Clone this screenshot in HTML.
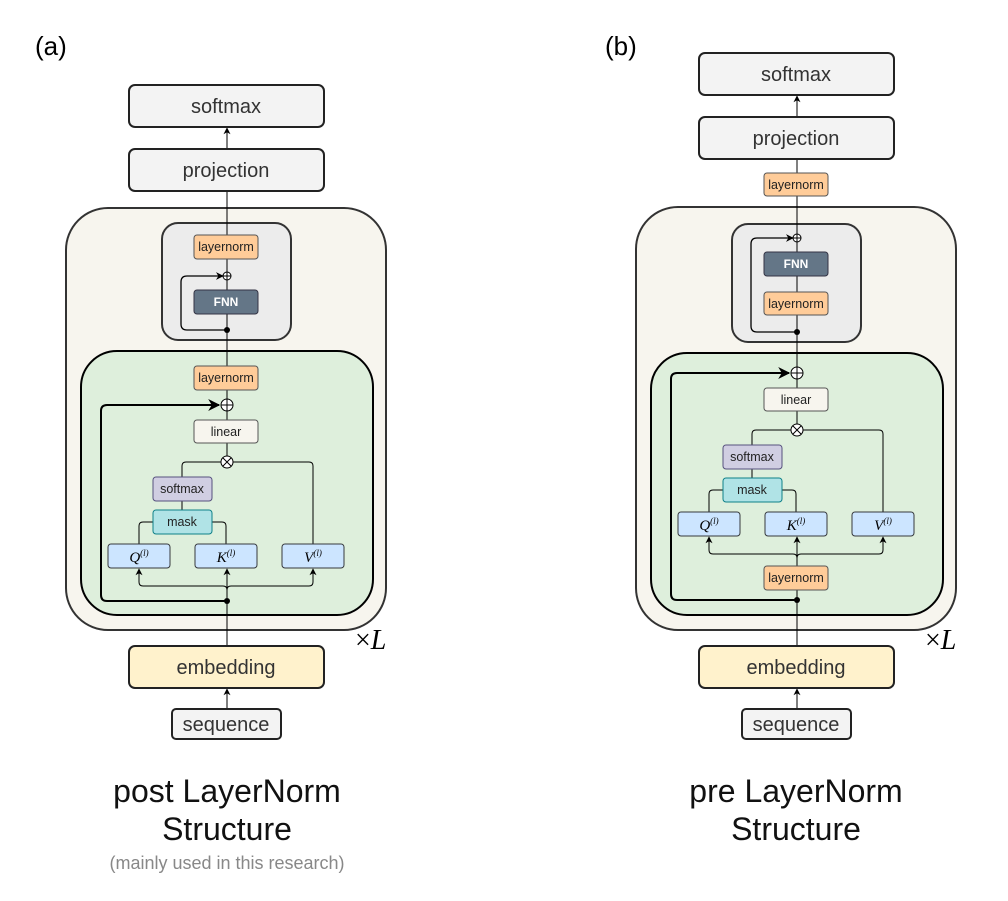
<!DOCTYPE html>
<html><head><meta charset="utf-8"><style>
html,body{margin:0;padding:0;background:#fff;}
svg{display:block;font-family:"Liberation Sans",sans-serif;}
</style></head><body>
<svg width="1008" height="901" viewBox="0 0 1008 901" xmlns="http://www.w3.org/2000/svg">
<defs>
<marker id="a" viewBox="0 0 10 10" refX="9" refY="5" markerWidth="6" markerHeight="6" orient="auto"><path d="M0,0 L10,5 L0,10 L3,5z" fill="#000"/></marker>
<marker id="s" viewBox="0 0 10 10" refX="9" refY="5" markerWidth="7" markerHeight="7" orient="auto" markerUnits="userSpaceOnUse"><path d="M0,0 L10,5 L0,10 L3,5z" fill="#000"/></marker>
</defs>

<!-- ========== LEFT (a) ========== -->
<text x="35" y="55" font-size="26" fill="#000">(a)</text>
<rect x="66" y="208" width="320" height="422" rx="42" fill="#f7f5ee" stroke="#333" stroke-width="2"/>
<rect x="162" y="223" width="129" height="117" rx="16" fill="#ececec" stroke="#333" stroke-width="2"/>
<rect x="81" y="351" width="292" height="264" rx="36" fill="#deefdc" stroke="#000" stroke-width="2"/>
<line x1="227" y1="191" x2="227" y2="462" stroke="#000" stroke-width="1"/>
<line x1="227" y1="601" x2="227" y2="646" stroke="#000" stroke-width="1"/>
<line x1="227" y1="708" x2="227" y2="689" stroke="#000" marker-end="url(#s)"/>
<line x1="227" y1="149" x2="227" y2="128" stroke="#000" marker-end="url(#s)"/>
<rect x="129" y="85" width="195" height="42" rx="6" fill="#f3f3f3" stroke="#222" stroke-width="2"/>
<text x="226" y="113" font-size="20" text-anchor="middle" fill="#333">softmax</text>
<rect x="129" y="149" width="195" height="42" rx="6" fill="#f3f3f3" stroke="#222" stroke-width="2"/>
<text x="226" y="177" font-size="20" text-anchor="middle" fill="#333">projection</text>
<rect x="129" y="646" width="195" height="42" rx="6" fill="#fff2cc" stroke="#222" stroke-width="2"/>
<text x="226" y="674" font-size="20" text-anchor="middle" fill="#333">embedding</text>
<rect x="172" y="709" width="109" height="30" rx="4" fill="#f3f3f3" stroke="#222" stroke-width="2"/>
<text x="226" y="731" font-size="20" text-anchor="middle" fill="#333">sequence</text>
<text x="355" y="649" font-size="28" font-family="Liberation Serif,serif">×<tspan font-style="italic">L</tspan></text>
<path d="M227,330 H187 q-6,0 -6,-6 V282 q0,-6 6,-6 H223" fill="none" stroke="#000" stroke-width="1.3" marker-end="url(#a)"/>
<circle cx="227" cy="330" r="3" fill="#000"/>
<circle cx="227" cy="276" r="4" fill="#fff" stroke="#000"/><path d="M223,276h8M227,272v8" stroke="#000"/>
<rect x="194" y="235" width="64" height="24" rx="3" fill="#ffcc99" stroke="#555"/>
<text x="226" y="251" font-size="12.5" text-anchor="middle" fill="#222">layernorm</text>
<rect x="194" y="290" width="64" height="24" rx="3" fill="#647687" stroke="#334"/>
<text x="226" y="306" font-size="12" font-weight="bold" text-anchor="middle" fill="#fff">FNN</text>
<path d="M227,601 H107 q-6,0 -6,-6 V411 q0,-6 6,-6 H219" fill="none" stroke="#000" stroke-width="2" marker-end="url(#a)"/>
<circle cx="227" cy="601" r="3" fill="#000"/>
<rect x="194" y="366" width="64" height="24" rx="3" fill="#ffcc99" stroke="#555"/>
<text x="226" y="382" font-size="12.5" text-anchor="middle" fill="#222">layernorm</text>
<circle cx="227" cy="405" r="6" fill="#fff" stroke="#000"/><path d="M221,405h12M227,399v12" stroke="#000"/>
<rect x="194" y="420" width="64" height="23" rx="3" fill="#f7f5ee" stroke="#555"/>
<text x="226" y="436" font-size="12.5" text-anchor="middle" fill="#222">linear</text>
<path d="M182,477 V466 q0,-4 4,-4 H309 q4,0 4,4 V544" fill="none" stroke="#000"/>
<circle cx="227" cy="462" r="6" fill="#fff" stroke="#000"/><path d="M223,458l8,8M231,458l-8,8" stroke="#000"/>
<path d="M139,544 V526 q0,-4 4,-4 H153 M212,522 H222 q4,0 4,4 V544 M182,501 V510" fill="none" stroke="#000"/>
<rect x="153" y="477" width="59" height="24" rx="3" fill="#d0cee2" stroke="#56517e"/>
<text x="182" y="493" font-size="12.5" text-anchor="middle" fill="#222">softmax</text>
<rect x="153" y="510" width="59" height="24" rx="3" fill="#b0e3e6" stroke="#0e8088"/>
<text x="182" y="526" font-size="12.5" text-anchor="middle" fill="#222">mask</text>
<rect x="108" y="544" width="62" height="24" rx="3" fill="#cce5ff" stroke="#36393d"/>
<rect x="195" y="544" width="62" height="24" rx="3" fill="#cce5ff" stroke="#36393d"/>
<rect x="282" y="544" width="62" height="24" rx="3" fill="#cce5ff" stroke="#36393d"/>
<text x="139" y="562" font-size="15" text-anchor="middle" font-family="Liberation Serif,serif" font-style="italic">Q<tspan font-size="9" dy="-6">(l)</tspan></text>
<text x="226" y="562" font-size="15" text-anchor="middle" font-family="Liberation Serif,serif" font-style="italic">K<tspan font-size="9" dy="-6">(l)</tspan></text>
<text x="313" y="562" font-size="15" text-anchor="middle" font-family="Liberation Serif,serif" font-style="italic">V<tspan font-size="9" dy="-6">(l)</tspan></text>
<path d="M227,598 V590 q0,-4 -4,-4 H143 q-4,0 -4,-4 V569" fill="none" stroke="#000" marker-end="url(#s)"/>
<path d="M227,598 V590 q0,-4 4,-4 H309 q4,0 4,-4 V569" fill="none" stroke="#000" marker-end="url(#s)"/>
<line x1="227" y1="590" x2="227" y2="569" stroke="#000" marker-end="url(#s)"/>
<text x="227" y="802" font-size="32" text-anchor="middle" fill="#111">post LayerNorm</text>
<text x="227" y="840" font-size="32" text-anchor="middle" fill="#111">Structure</text>
<text x="227" y="869" font-size="18" text-anchor="middle" fill="#888">(mainly used in this research)</text>

<!-- ========== RIGHT (b) ========== -->
<text x="605" y="55" font-size="26" fill="#000">(b)</text>
<rect x="636" y="207" width="320" height="423" rx="42" fill="#f7f5ee" stroke="#333" stroke-width="2"/>
<rect x="732" y="224" width="129" height="118" rx="16" fill="#ececec" stroke="#333" stroke-width="2"/>
<rect x="651" y="353" width="292" height="262" rx="36" fill="#deefdc" stroke="#000" stroke-width="2"/>
<line x1="797" y1="160" x2="797" y2="430" stroke="#000" stroke-width="1"/>
<line x1="797" y1="590" x2="797" y2="646" stroke="#000" stroke-width="1"/>
<line x1="797" y1="708" x2="797" y2="689" stroke="#000" marker-end="url(#s)"/>
<line x1="797" y1="117" x2="797" y2="96" stroke="#000" marker-end="url(#s)"/>
<rect x="699" y="53" width="195" height="42" rx="6" fill="#f3f3f3" stroke="#222" stroke-width="2"/>
<text x="796" y="81" font-size="20" text-anchor="middle" fill="#333">softmax</text>
<rect x="699" y="117" width="195" height="42" rx="6" fill="#f3f3f3" stroke="#222" stroke-width="2"/>
<text x="796" y="145" font-size="20" text-anchor="middle" fill="#333">projection</text>
<rect x="764" y="173" width="64" height="23" rx="3" fill="#ffcc99" stroke="#555"/>
<text x="796" y="189" font-size="12.5" text-anchor="middle" fill="#222">layernorm</text>
<rect x="699" y="646" width="195" height="42" rx="6" fill="#fff2cc" stroke="#222" stroke-width="2"/>
<text x="796" y="674" font-size="20" text-anchor="middle" fill="#333">embedding</text>
<rect x="742" y="709" width="109" height="30" rx="4" fill="#f3f3f3" stroke="#222" stroke-width="2"/>
<text x="796" y="731" font-size="20" text-anchor="middle" fill="#333">sequence</text>
<text x="925" y="649" font-size="28" font-family="Liberation Serif,serif">×<tspan font-style="italic">L</tspan></text>
<path d="M797,332 H757 q-6,0 -6,-6 V244 q0,-6 6,-6 H793" fill="none" stroke="#000" stroke-width="1.3" marker-end="url(#a)"/>
<circle cx="797" cy="332" r="3" fill="#000"/>
<circle cx="797" cy="238" r="4" fill="#fff" stroke="#000"/><path d="M793,238h8M797,234v8" stroke="#000"/>
<rect x="764" y="252" width="64" height="24" rx="3" fill="#647687" stroke="#334"/>
<text x="796" y="268" font-size="12" font-weight="bold" text-anchor="middle" fill="#fff">FNN</text>
<rect x="764" y="292" width="64" height="23" rx="3" fill="#ffcc99" stroke="#555"/>
<text x="796" y="308" font-size="12.5" text-anchor="middle" fill="#222">layernorm</text>
<path d="M797,600 H677 q-6,0 -6,-6 V379 q0,-6 6,-6 H789" fill="none" stroke="#000" stroke-width="2" marker-end="url(#a)"/>
<circle cx="797" cy="600" r="3" fill="#000"/>
<circle cx="797" cy="373" r="6" fill="#fff" stroke="#000"/><path d="M791,373h12M797,367v12" stroke="#000"/>
<rect x="764" y="388" width="64" height="23" rx="3" fill="#f7f5ee" stroke="#555"/>
<text x="796" y="404" font-size="12.5" text-anchor="middle" fill="#222">linear</text>
<path d="M752,445 V434 q0,-4 4,-4 H879 q4,0 4,4 V512" fill="none" stroke="#000"/>
<circle cx="797" cy="430" r="6" fill="#fff" stroke="#000"/><path d="M793,426l8,8M801,426l-8,8" stroke="#000"/>
<path d="M709,512 V494 q0,-4 4,-4 H723 M782,490 H792 q4,0 4,4 V512 M752,469 V478" fill="none" stroke="#000"/>
<rect x="723" y="445" width="59" height="24" rx="3" fill="#d0cee2" stroke="#56517e"/>
<text x="752" y="461" font-size="12.5" text-anchor="middle" fill="#222">softmax</text>
<rect x="723" y="478" width="59" height="24" rx="3" fill="#b0e3e6" stroke="#0e8088"/>
<text x="752" y="494" font-size="12.5" text-anchor="middle" fill="#222">mask</text>
<rect x="678" y="512" width="62" height="24" rx="3" fill="#cce5ff" stroke="#36393d"/>
<rect x="765" y="512" width="62" height="24" rx="3" fill="#cce5ff" stroke="#36393d"/>
<rect x="852" y="512" width="62" height="24" rx="3" fill="#cce5ff" stroke="#36393d"/>
<text x="709" y="530" font-size="15" text-anchor="middle" font-family="Liberation Serif,serif" font-style="italic">Q<tspan font-size="9" dy="-6">(l)</tspan></text>
<text x="796" y="530" font-size="15" text-anchor="middle" font-family="Liberation Serif,serif" font-style="italic">K<tspan font-size="9" dy="-6">(l)</tspan></text>
<text x="883" y="530" font-size="15" text-anchor="middle" font-family="Liberation Serif,serif" font-style="italic">V<tspan font-size="9" dy="-6">(l)</tspan></text>
<path d="M797,566 V558 q0,-4 -4,-4 H713 q-4,0 -4,-4 V537" fill="none" stroke="#000" marker-end="url(#s)"/>
<path d="M797,566 V558 q0,-4 4,-4 H879 q4,0 4,-4 V537" fill="none" stroke="#000" marker-end="url(#s)"/>
<line x1="797" y1="558" x2="797" y2="537" stroke="#000" marker-end="url(#s)"/>
<rect x="764" y="566" width="64" height="24" rx="3" fill="#ffcc99" stroke="#555"/>
<text x="796" y="582" font-size="12.5" text-anchor="middle" fill="#222">layernorm</text>
<text x="796" y="802" font-size="32" text-anchor="middle" fill="#111">pre LayerNorm</text>
<text x="796" y="840" font-size="32" text-anchor="middle" fill="#111">Structure</text>
</svg>
</body></html>
